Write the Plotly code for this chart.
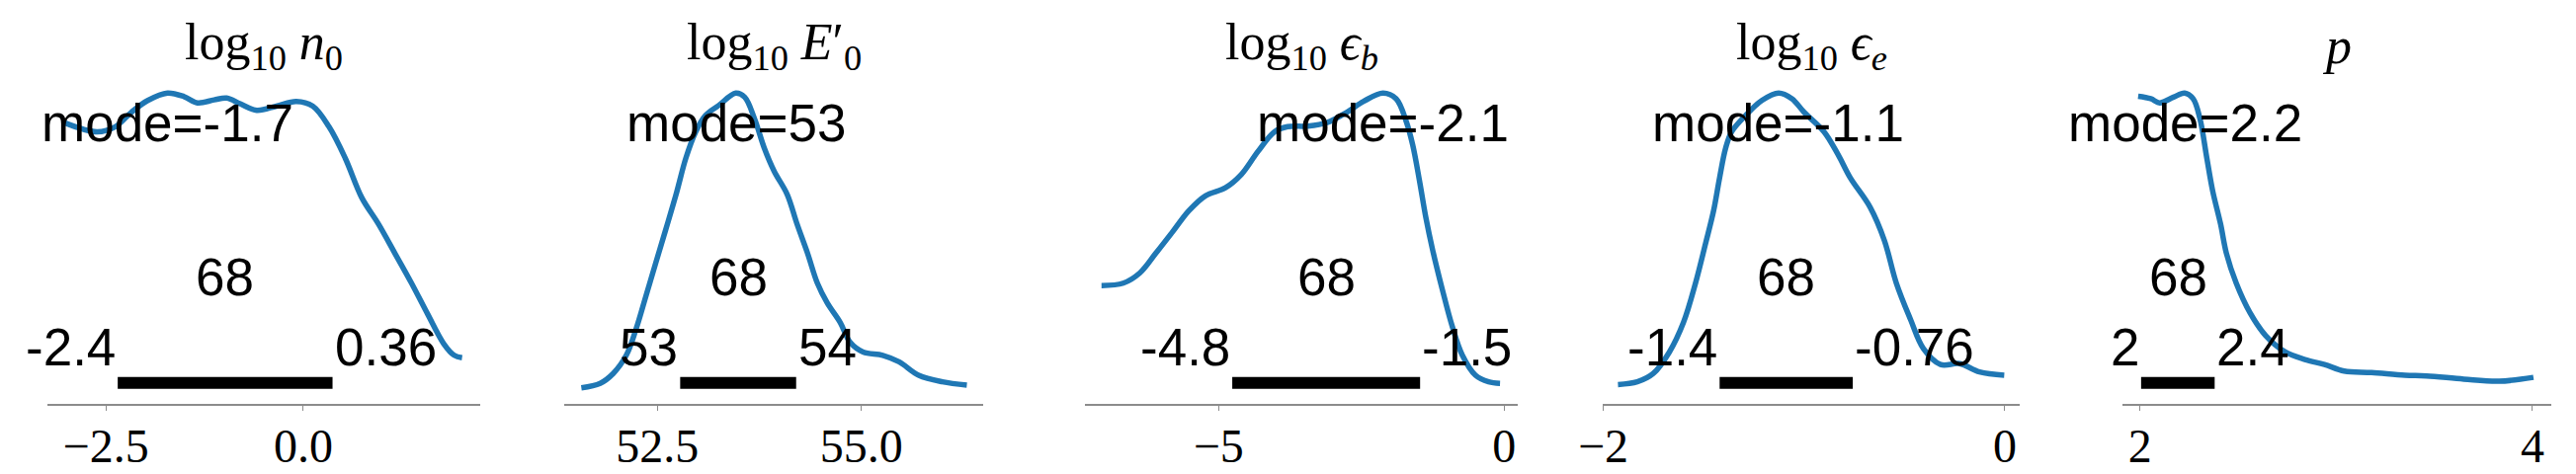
import plotly.graph_objects as go

# Posterior densities (each normalised to its peak)
n0_x = [-3.03, -2.61, -2.38, -2.175, -1.97, -1.72, -1.51, -1.34, -1.13, -0.97, -0.80, -0.59,
        -0.34, -0.09, 0.12, 0.325, 0.53, 0.74, 0.95, 1.16, 1.37, 1.575, 1.78, 1.91, 2.01]
n0_y = [0.894, 0.863, 0.880, 0.929, 0.968, 0.993, 0.981, 0.960, 0.970, 0.976, 0.957, 0.935,
        0.949, 0.965, 0.949, 0.880, 0.775, 0.642, 0.554, 0.455, 0.355, 0.251, 0.151, 0.113, 0.105]

E0_x = [51.57, 51.80, 51.96, 52.12, 52.24, 52.36, 52.48, 52.60, 52.73, 52.85, 52.97, 53.09,
        53.25, 53.46, 53.57, 53.69, 53.81, 53.93, 54.09, 54.21, 54.34, 54.46, 54.58, 54.74,
        54.86, 55.02, 55.26, 55.46, 55.70, 55.99, 56.29]
E0_y = [0.004, 0.019, 0.052, 0.113, 0.201, 0.311, 0.422, 0.532, 0.653, 0.775, 0.863, 0.918,
        0.951, 0.993, 0.979, 0.907, 0.808, 0.731, 0.653, 0.554, 0.455, 0.355, 0.289, 0.223,
        0.157, 0.124, 0.113, 0.091, 0.046, 0.024, 0.013]

eb_x = [-7.05, -6.67, -6.38, -6.10, -5.81, -5.52, -5.23, -4.88, -4.60, -4.31, -4.02, -3.79,
        -3.44, -3.10, -2.75, -2.46, -2.12, -1.89, -1.71, -1.60, -1.48, -1.37, -1.25, -1.08,
        -0.91, -0.73, -0.50, -0.27, -0.07]
eb_y = [0.347, 0.355, 0.389, 0.455, 0.526, 0.598, 0.648, 0.675, 0.720, 0.797, 0.863, 0.880,
        0.882, 0.894, 0.929, 0.965, 0.993, 0.974, 0.896, 0.819, 0.698, 0.576, 0.466, 0.333,
        0.212, 0.113, 0.046, 0.024, 0.019]

ee_x = [-1.926, -1.83, -1.75, -1.67, -1.60, -1.54, -1.49, -1.45, -1.42, -1.39, -1.36, -1.29,
        -1.21, -1.126, -1.06, -1.00, -0.90, -0.83, -0.77, -0.67, -0.60, -0.54, -0.47, -0.405,
        -0.32, -0.225, -0.126, -0.003]
ee_y = [0.015, 0.024, 0.052, 0.124, 0.223, 0.355, 0.488, 0.598, 0.709, 0.808, 0.863, 0.918,
        0.968, 0.993, 0.974, 0.929, 0.863, 0.786, 0.709, 0.609, 0.499, 0.355, 0.234, 0.135,
        0.082, 0.085, 0.057, 0.046]

p_x = [1.99, 2.054, 2.10, 2.17, 2.227, 2.27, 2.305, 2.34, 2.37, 2.41, 2.44, 2.49, 2.56, 2.64,
       2.74, 2.84, 2.94, 3.04, 3.18, 3.35, 3.46, 3.65, 3.83, 4.005]
p_y = [0.982, 0.974, 0.960, 0.979, 0.993, 0.974, 0.907, 0.775, 0.664, 0.554, 0.455, 0.355,
       0.256, 0.179, 0.124, 0.099, 0.082, 0.060, 0.055, 0.046, 0.044, 0.033, 0.026, 0.039]

titles = ['log<sub>10</sub> <i>n</i><sub>0</sub>',
          'log<sub>10</sub> <i>E</i>′<sub>0</sub>',
          'log<sub>10</sub> <i>ϵ</i><sub><i>b</i></sub>',
          'log<sub>10</sub> <i>ϵ</i><sub><i>e</i></sub>',
          '<i>p</i>']
modes = [-1.72, 53.46, -2.12, -1.13, 2.23]
mode_labels = ['mode=-1.7', 'mode=53', 'mode=-2.1', 'mode=-1.1', 'mode=2.2']
hdi_low = [-2.35, 52.78, -4.76, -1.42, 2.005]
hdi_high = [0.37, 54.20, -1.47, -0.757, 2.38]
hdi_low_labels = ['-2.4', '53', '-4.8', '-1.4', '2']
hdi_high_labels = ['0.36', '54', '-1.5', '-0.76', '2.4']
hdi_prob = '68'
tick_vals = [[-2.5, 0.0], [52.5, 55.0], [-5, 0], [-2, 0], [2, 4]]
tick_text = [['−2.5', '0.0'], ['52.5', '55.0'], ['−5', '0'], ['−2', '0'], ['2', '4']]

xs = [n0_x, E0_x, eb_x, ee_x, p_x]
ys = [n0_y, E0_y, eb_y, ee_y, p_y]

# panel layout (pixels in the 2607x480 page)
W, H = 2607, 480
panel_px = [(48, 486), (571, 995), (1098, 1536), (1622, 2044), (2148, 2582)]
x_ranges = [[-3.24, 2.24], [51.36, 56.49], [-7.34, 0.24], [-2.002, 0.074], [1.91, 4.096]]
y_dom = [(H - 409) / H, (H - 77) / H]

SANS = 'Liberation Sans'
SERIF = 'Liberation Serif'

fig = go.Figure()
annotations = []
for i in range(5):
    n = '' if i == 0 else str(i + 1)
    fig.add_trace(go.Scatter(x=xs[i], y=ys[i], mode='lines', line=dict(color='#1f77b4', width=5.5, shape='spline'),
                             xaxis='x' + n, yaxis='y' + n, showlegend=False))
    # HDI bar
    fig.add_trace(go.Scatter(x=[hdi_low[i], hdi_high[i]], y=[0.02, 0.02], mode='lines',
                             line=dict(color='black', width=12), xaxis='x' + n, yaxis='y' + n,
                             showlegend=False))
    l, r = panel_px[i]
    fig.layout['xaxis' + n] = dict(domain=[l / W, r / W], range=x_ranges[i], anchor='y' + n,
                                   automargin=False, showgrid=False, zeroline=False, showline=True,
                                   linecolor='#8c8c8c', linewidth=1.5, ticks='outside', ticklen=5,
                                   tickcolor='#8c8c8c', tickvals=tick_vals[i], ticktext=tick_text[i],
                                   ticklabelstandoff=-5,
                                   tickfont=dict(family=SERIF, size=48, color='black'))
    fig.layout['yaxis' + n] = dict(domain=y_dom, range=[-0.05, 1.05], anchor='x' + n, visible=False,
                                   automargin=False)
    txt = dict(xref='x' + n, yref='y' + n, showarrow=False, font=dict(family=SANS, size=53, color='black'))
    annotations.append(dict(txt, x=modes[i], y=0.894, text=mode_labels[i], xanchor='center', yanchor='middle'))
    annotations.append(dict(txt, x=(hdi_low[i] + hdi_high[i]) / 2, y=0.375, text=hdi_prob,
                            xanchor='center', yanchor='middle'))
    annotations.append(dict(txt, x=hdi_low[i], y=0.139, text=hdi_low_labels[i], xanchor='right', yanchor='middle'))
    annotations.append(dict(txt, x=hdi_high[i], y=0.139, text=hdi_high_labels[i], xanchor='left', yanchor='middle'))
    annotations.append(dict(xref='paper', yref='paper', x=(l + r) / 2 / W, y=(H - 47) / H, text=titles[i],
                            showarrow=False, xanchor='center', yanchor='middle',
                            font=dict(family=SERIF, size=52, color='black')))

fig.update_layout(width=W, height=H, margin=dict(l=0, r=0, t=0, b=0),
                  paper_bgcolor='white', plot_bgcolor='white', annotations=annotations)
fig.write_html("out.html", config={'displayModeBar': False},
               post_script="document.body.style.margin = '0';")
